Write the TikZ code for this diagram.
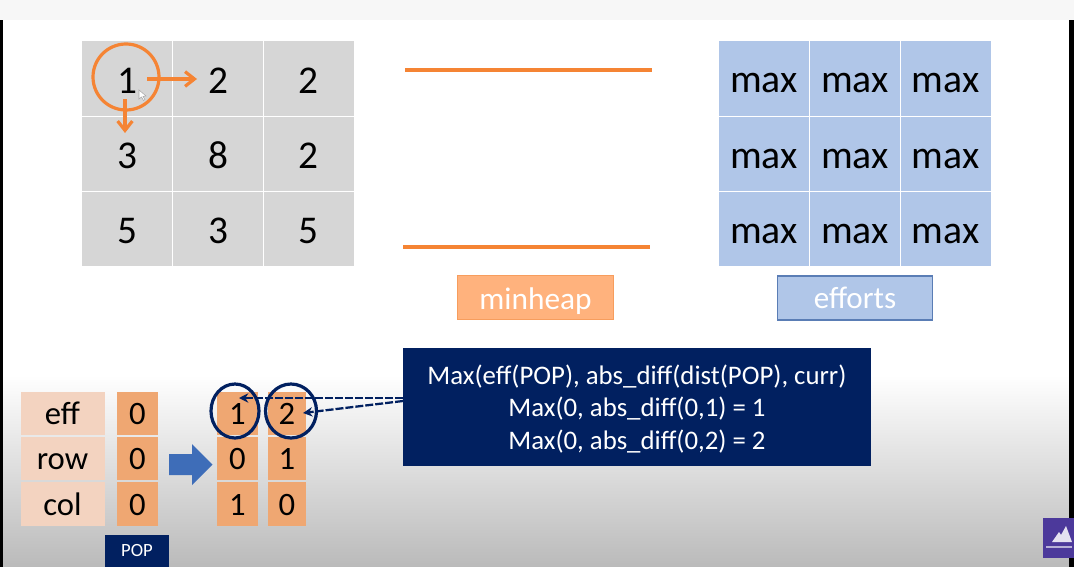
\documentclass[tikz,border=0pt]{standalone}
\usepackage{fontspec}
\setmainfont{Carlito}
\usetikzlibrary{arrows.meta,shapes.geometric,calc}
\newdimen\pxu
\pxu=0.75pt
\definecolor{gridgray}{HTML}{D6D6D6}
\definecolor{effblue}{HTML}{B0C6E8}
\definecolor{effedge}{HTML}{5A7DB5}
\definecolor{heapor}{HTML}{FFB27D}
\definecolor{lineor}{HTML}{F58434}
\definecolor{cellor}{HTML}{EFA772}
\definecolor{labelpk}{HTML}{F3D3C0}
\definecolor{navy}{HTML}{012060}
\definecolor{arrowblue}{HTML}{3E6DB8}
\definecolor{logopurple}{HTML}{4C399B}
\definecolor{bandgray}{HTML}{F7F7F7}
\definecolor{bottomgray}{HTML}{BABABA}
\tikzset{
  box/.style={inner sep=0pt,outer sep=0pt,anchor=center,text=black},
  gridcell/.style={box,fill=gridgray,minimum width=90\pxu,minimum height=74.5\pxu,text height=21.5pt,text depth=0pt,font=\fontsize{29.5pt}{30pt}\selectfont},
  effcell/.style={box,fill=effblue,minimum width=90\pxu,minimum height=74.5\pxu,text height=21pt,text depth=0pt,font=\fontsize{29.8pt}{30pt}\selectfont},
  labelcell/.style={box,fill=labelpk,minimum width=84\pxu,minimum height=43.5\pxu,text height=17pt,text depth=0pt,font=\fontsize{24.5pt}{24pt}\selectfont},
  numcell/.style={box,fill=cellor,minimum height=43.5\pxu,text height=17pt,text depth=0pt,font=\fontsize{24.5pt}{24pt}\selectfont},
  heapline/.style={draw=lineor,line width=2.5pt},
  orarrow/.style={draw=lineor,line width=2.4pt,-{Straight Barb[length=7pt,width=11pt,line width=2.4pt]}},
  navyring/.style={draw=navy,line width=2.4pt,ellipse,inner sep=0pt},
  dasharrow/.style={draw=navy,line width=1.7pt,dash pattern=on 6pt off 1.5pt,-{Stealth[length=7pt,width=7pt]}},
}
\begin{document}
\begin{tikzpicture}[x=0.75pt,y=-0.75pt]
\useasboundingbox (0,0) rectangle (1074,567);
% background
\fill[white] (0,0) rectangle (1074,567);
\shade[top color=white,bottom color=bottomgray] (0,375) rectangle (1074,567);
\fill[bandgray] (0,0) rectangle (1074,20);
\fill[black] (0,20) rectangle (3,567);
\fill[black] (1069,20) rectangle (1074,567);
% value grid
\node[gridcell] (g11) at (127,78.75) {1};
\node[gridcell] (g12) at (218,78.75) {2};
\node[gridcell] (g13) at (308.5,78.75) {2};
\node[gridcell] (g21) at (127,154) {3};
\node[gridcell] (g22) at (218,154) {8};
\node[gridcell] (g23) at (308.5,154) {2};
\node[gridcell] (g31) at (127,229) {5};
\node[gridcell] (g32) at (218,229) {3};
\node[gridcell] (g33) at (308.5,229) {5};
% orange circle and arrows
\node[draw=lineor,line width=2.4pt,circle,minimum size=66\pxu,inner sep=0pt] (ring) at (126,77) {};
\coordinate (rstart) at (147,79);
\coordinate (rend) at (197,79);
\coordinate (dstart) at (125,99);
\coordinate (dend) at (125,133);
\draw[orarrow] (rstart) -- (rend);
\draw[orarrow] (dstart) -- (dend);
% cursor
\draw[gray!70,fill=white,line width=0.4pt] (139,90) -- (139,99) -- (141.5,97) -- (143.5,100.5) -- (145,99.5) -- (143,96.5) -- (146,96) -- cycle;
% heap lines
\coordinate (h1a) at (405,70);
\coordinate (h1b) at (652,70);
\coordinate (h2a) at (403,247);
\coordinate (h2b) at (650,247);
\draw[heapline] (h1a) -- (h1b);
\draw[heapline] (h2a) -- (h2b);
\node[box,fill=heapor,draw=lineor!80,line width=0.8pt,minimum width=156\pxu,minimum height=44\pxu,text=white,text height=17.5pt,text depth=0pt,font=\fontsize{23.5pt}{22pt}\selectfont] (minheap) at (535.5,297.5) {minheap};
% efforts grid
\node[effcell] (e11) at (764,78.75) {max};
\node[effcell] (e12) at (855,78.75) {max};
\node[effcell] (e13) at (945.5,78.75) {max};
\node[effcell] (e21) at (764,154) {max};
\node[effcell] (e22) at (855,154) {max};
\node[effcell] (e23) at (945.5,154) {max};
\node[effcell] (e31) at (764,229) {max};
\node[effcell] (e32) at (855,229) {max};
\node[effcell] (e33) at (945.5,229) {max};
\node[box,fill=effblue,draw=effedge,line width=1pt,minimum width=155\pxu,minimum height=44\pxu,text=white,font=\fontsize{23.3pt}{22pt}\selectfont] (efforts) at (855,298) {efforts};
% bottom table
\node[labelcell] (leff) at (62.5,413.5) {eff};
\node[labelcell] (lrow) at (62.5,458.5) {row};
\node[labelcell] (lcol) at (62.5,504) {col};
\node[numcell,minimum width=41\pxu] (p1) at (137.5,413.5) {0};
\node[numcell,minimum width=41\pxu] (p2) at (137.5,458.5) {0};
\node[numcell,minimum width=41\pxu] (p3) at (137.5,504) {0};
\node[box,fill=navy,minimum width=64\pxu,minimum height=32\pxu,text=white,font=\fontsize{14pt}{15pt}\selectfont] (pop) at (137,551) {POP};
\node[numcell,minimum width=41\pxu] (a1) at (237.5,413.5) {1};
\node[numcell,minimum width=41\pxu] (a2) at (237.5,458.5) {0};
\node[numcell,minimum width=41\pxu] (a3) at (237.5,504) {1};
\node[numcell,minimum width=38\pxu] (b1) at (287,413.5) {2};
\node[numcell,minimum width=38\pxu] (b2) at (287,458.5) {1};
\node[numcell,minimum width=38\pxu] (b3) at (287,504) {0};
% block arrow
\fill[arrowblue] (169,454) -- (192,454) -- (192,444) -- (212.5,464.5) -- (192,485) -- (192,475) -- (169,475) -- cycle;
% rings
\node[navyring,minimum width=48\pxu,minimum height=54\pxu] (c1) at (235,411) {};
\node[navyring,minimum width=51\pxu,minimum height=54\pxu] (c2) at (291,411) {};
% explanation box
\node[box,fill=navy,minimum width=468\pxu,minimum height=118\pxu] (expl) at (637,407) {};
\node[box,text=white,align=center,font=\fontsize{20.1pt}{24.4pt}\selectfont] (expltext) at (637,409) {Max(eff(POP), abs\_diff(dist(POP), curr)\\Max(0, abs\_diff(0,1) = 1\\Max(0, abs\_diff(0,2) = 2};
\coordinate (t1) at (239,398);
\coordinate (t2) at (303,413);
\draw[dasharrow] (expl.west |- t1) -- (t1);
\draw[dasharrow] (expl.west |- 0,401) -- (t2);
% logo
\fill[logopurple] (1043,518) rectangle (1074,558);
\fill[white!85!logopurple] (1052,542) -- (1059,532) -- (1061,535) -- (1066,526) -- (1072,542) -- cycle;
\fill[white!60!logopurple] (1046,546) rectangle (1072,547.5);
\end{tikzpicture}
\end{document}
